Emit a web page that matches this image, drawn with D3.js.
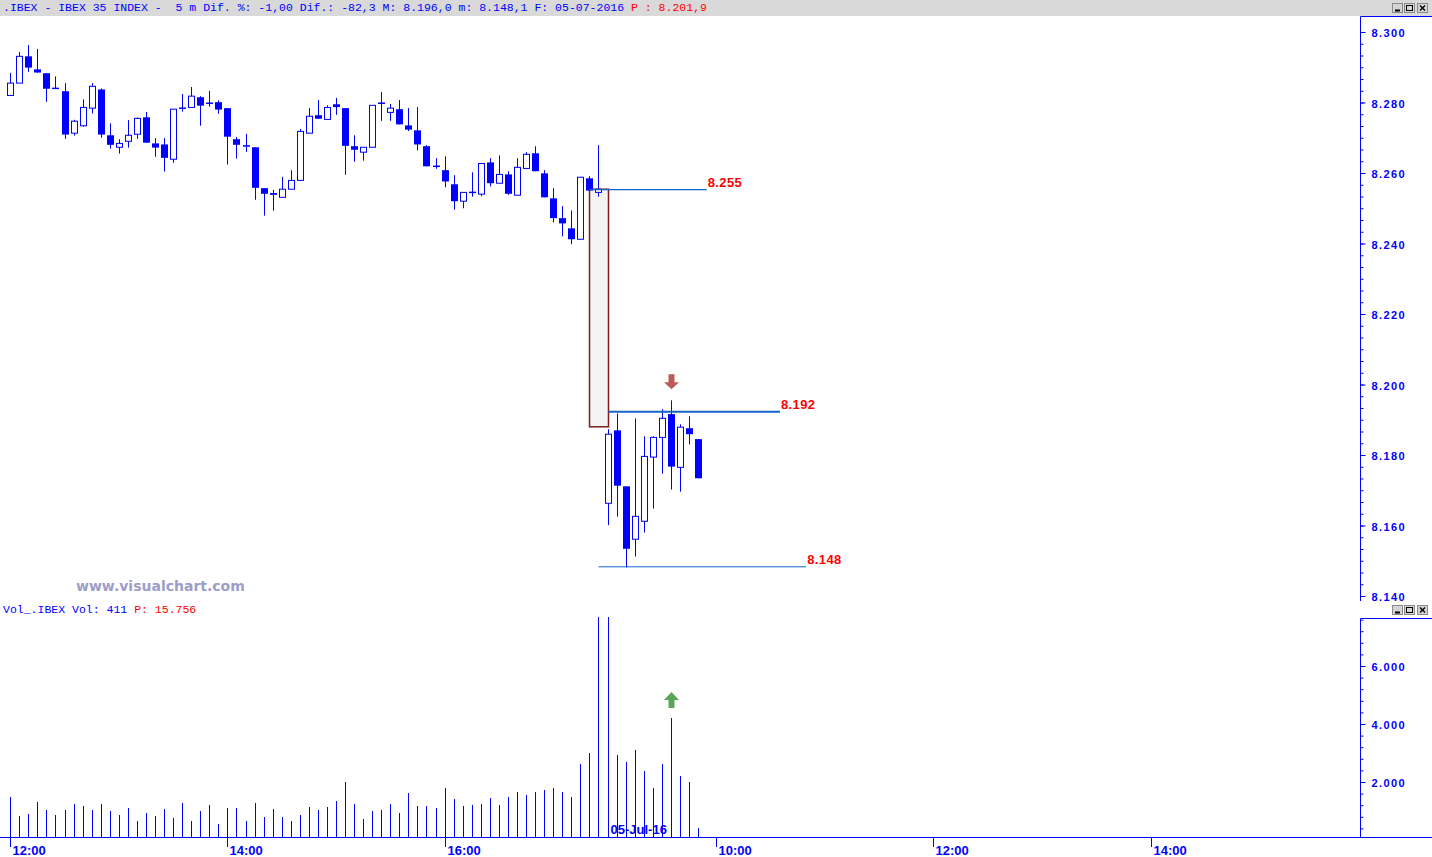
<!DOCTYPE html>
<html>
<head>
<meta charset="utf-8">
<script src="https://d3js.org/d3.v7.min.js"></script>
<style>
  body { margin: 0; background: #fff; }
  svg { display: block; }
  text { white-space: pre; }
</style>
</head>
<body>
<script>

var width = 1432;
var height = 857;

// 5 min candles: 04-07 from 12:00 to the close, then 05-07 from 09:00
var opens = [8.2820, 8.2855, 8.2931, 8.2894, 8.2883, 8.2840, 8.2832, 8.2713, 8.2734, 8.2784,
  8.2837, 8.2707, 8.2673, 8.2690, 8.2710, 8.2758, 8.2684, 8.2681, 8.2639, 8.2786,
  8.2786, 8.2815, 8.2798, 8.2801, 8.2784, 8.2696, 8.2679, 8.2673, 8.2557, 8.2543,
  8.2531, 8.2554, 8.2579, 8.2713, 8.2764, 8.2752, 8.2795, 8.2784, 8.2676, 8.2659,
  8.2673, 8.2798, 8.2772, 8.2781, 8.2735, 8.2721, 8.2676, 8.2619, 8.2608, 8.2568,
  8.2520, 8.2545, 8.2540, 8.2630, 8.2571, 8.2596, 8.2537, 8.2613, 8.2656, 8.2599,
  8.2528, 8.2472, 8.2443, 8.2412, 8.2585, 8.2545, 8.1663, 8.1870, 8.1711, 8.1561,
  8.1612, 8.1794, 8.1850, 8.1916, 8.1765, 8.1876, 8.1845];

var highs = [8.2884, 8.2943, 8.2963, 8.2952, 8.2883, 8.2874, 8.2855, 8.2751, 8.2809, 8.2855,
  8.2840, 8.2741, 8.2696, 8.2750, 8.2758, 8.2773, 8.2699, 8.2699, 8.2781, 8.2824,
  8.2844, 8.2818, 8.2833, 8.2806, 8.2784, 8.2702, 8.2711, 8.2673, 8.2557, 8.2552,
  8.2589, 8.2608, 8.2725, 8.2784, 8.2807, 8.2792, 8.2813, 8.2784, 8.2707, 8.2673,
  8.2792, 8.2830, 8.2796, 8.2807, 8.2784, 8.2787, 8.2679, 8.2642, 8.2647, 8.2594,
  8.2545, 8.2602, 8.2627, 8.2642, 8.2650, 8.2605, 8.2642, 8.2659, 8.2676, 8.2608,
  8.2557, 8.2506, 8.2494, 8.2588, 8.2591, 8.2679, 8.1873, 8.1918, 8.1711, 8.1904,
  8.1853, 8.1853, 8.1930, 8.1955, 8.1887, 8.1910, 8.1845];

var lows = [8.2820, 8.2855, 8.2887, 8.2885, 8.2802, 8.2840, 8.2697, 8.2706, 8.2731, 8.2769,
  8.2700, 8.2669, 8.2655, 8.2672, 8.2697, 8.2686, 8.2646, 8.2604, 8.2629, 8.2774,
  8.2786, 8.2734, 8.2788, 8.2768, 8.2624, 8.2641, 8.2660, 8.2524, 8.2479, 8.2493,
  8.2531, 8.2554, 8.2579, 8.2713, 8.2754, 8.2752, 8.2765, 8.2595, 8.2632, 8.2635,
  8.2673, 8.2748, 8.2748, 8.2738, 8.2719, 8.2664, 8.2619, 8.2612, 8.2559, 8.2496,
  8.2500, 8.2533, 8.2534, 8.2562, 8.2571, 8.2538, 8.2537, 8.2611, 8.2605, 8.2531,
  8.2460, 8.2420, 8.2398, 8.2412, 8.2550, 8.2533, 8.1601, 8.1625, 8.1481, 8.1512,
  8.1580, 8.1648, 8.1747, 8.1702, 8.1696, 8.1830, 8.1734];

var closes = [8.2855, 8.2931, 8.2899, 8.2885, 8.2839, 8.2840, 8.2709, 8.2747, 8.2786, 8.2846,
  8.2709, 8.2680, 8.2684, 8.2707, 8.2755, 8.2686, 8.2672, 8.2643, 8.2781, 8.2782,
  8.2818, 8.2791, 8.2798, 8.2780, 8.2703, 8.2680, 8.2675, 8.2558, 8.2541, 8.2538,
  8.2554, 8.2579, 8.2718, 8.2761, 8.2754, 8.2786, 8.2787, 8.2677, 8.2666, 8.2673,
  8.2792, 8.2798, 8.2784, 8.2738, 8.2723, 8.2681, 8.2619, 8.2619, 8.2576, 8.2520,
  8.2545, 8.2545, 8.2627, 8.2571, 8.2596, 8.2541, 8.2616, 8.2653, 8.2605, 8.2531,
  8.2472, 8.2457, 8.2412, 8.2588, 8.2550, 8.2554, 8.1859, 8.1713, 8.1534, 8.1626,
  8.1796, 8.1850, 8.1904, 8.1767, 8.1879, 8.1859, 8.1734];

var volumes = [1483, 828, 897, 1310, 1034, 862, 1034, 1241, 1172, 1034,
  1241, 1000, 862, 1103, 655, 931, 828, 1069, 759, 1276,
  655, 1000, 1207, 552, 1103, 1103, 655, 1276, 793, 1069,
  793, 655, 862, 1138, 1034, 1138, 1345, 2000, 1241, 724,
  1000, 1034, 1241, 931, 1621, 1172, 1172, 1103, 1793, 1414,
  1172, 1207, 1241, 1448, 1207, 1483, 1655, 1552, 1655, 1724,
  1793, 1655, 1483, 2621, 3000, 11500, 9800, 2931, 2690, 3103,
  2379, 1793, 2621, 4207, 2207, 2000, 411];

var timeTickIndex = [0, 24, 48, 78, 102, 126];
var timeTickLabels = ["12:00", "14:00", "16:00", "10:00", "12:00", "14:00"];
var priceTicks = [8.14, 8.16, 8.18, 8.20, 8.22, 8.24, 8.26, 8.28, 8.30];
var volumeTicks = [2000, 4000, 6000];

var levels = [8.255, 8.192, 8.148];
var levelLabels = ["8.255", "8.192", "8.148"];
var levelFrom = [64, 66, 65];
var levelTo = [76.9, 85, 87.9];
var levelWidth = [1.3, 2, 1];

var gapTop = 8.2554, gapBottom = 8.188;
var signalIndex = 73;
var dayStartIndex = 66;
var dayLabel = "05-Jul-16";

var titleBlue = ".IBEX - IBEX 35 INDEX -  5 m Dif. %: -1,00 Dif.: -82,3 M: 8.196,0 m: 8.148,1 F: 05-07-2016 ";
var titleRed = "P : 8.201,9";
var volTitleBlue = "Vol_.IBEX Vol: 411 ";
var volTitleRed = "P: 15.756";

var blue = "#0000ff";
var lineBlue = "#1565c8";
var boldFont = "'Liberation Sans', Arial, sans-serif";
var monoFont = "'Liberation Mono', 'Courier New', monospace";

var candles = opens.map(function(o, i) {
  return {i: i, o: o, h: highs[i], l: lows[i], c: closes[i], v: volumes[i]};
});

var svg = d3.select("body")
  .append("svg")
  .attr("width", width)
  .attr("height", height);

var x = d3.scaleLinear().domain([0, 126]).range([10.7, 1151]);
var y = d3.scaleLinear().domain([8.14, 8.30]).range([596, 32]);
var vy = d3.scaleLinear().domain([0, 6000]).range([840, 666]);
var axisX = 1360.5;

function cx(i) { return Math.floor(x(i)) + 0.5; }

// title bars
svg.append("rect").attr("x", 0).attr("y", 0).attr("width", width).attr("height", 16).attr("fill", "#d9d9d9");

var title = svg.append("text")
  .attr("x", 3).attr("y", 11)
  .attr("font-family", monoFont).attr("font-size", "11.5px");
title.append("tspan").attr("fill", blue).text(titleBlue);
title.append("tspan").attr("fill", "#ff0000").text(titleRed);

var volTitle = svg.append("text")
  .attr("x", 3).attr("y", 613)
  .attr("font-family", monoFont).attr("font-size", "11.5px");
volTitle.append("tspan").attr("fill", blue).text(volTitleBlue);
volTitle.append("tspan").attr("fill", "#ff0000").text(volTitleRed);

function windowButtons(top) {
  var g = svg.append("g").attr("transform", "translate(0," + top + ")");
  [1392, 1404, 1417].forEach(function(bx, k) {
    g.append("rect").attr("x", bx + 0.5).attr("y", 0.5).attr("width", 10).attr("height", 9)
      .attr("fill", "#d4d4d4").attr("stroke", "#8a8a8a");
    if (k == 0) {
      g.append("line").attr("x1", bx + 3).attr("x2", bx + 8).attr("y1", 7.5).attr("y2", 7.5).attr("stroke", "#000").attr("stroke-width", 2);
    } else if (k == 1) {
      g.append("rect").attr("x", bx + 2.5).attr("y", 2.5).attr("width", 6).attr("height", 5)
        .attr("fill", "none").attr("stroke", "#000");
    } else {
      g.append("path").attr("d", "M" + (bx + 3) + ",2.5L" + (bx + 8) + ",7.5M" + (bx + 8) + ",2.5L" + (bx + 3) + ",7.5")
        .attr("stroke", "#000").attr("stroke-width", 1.4);
    }
  });
}
windowButtons(3);
windowButtons(605);

// watermark
svg.append("text")
  .attr("x", 76).attr("y", 591)
  .attr("font-family", "'DejaVu Sans', Verdana, sans-serif")
  .attr("font-weight", "bold").attr("font-size", "14px")
  .attr("fill", "#9d9dc9")
  .text("www.visualchart.com");

// gap box between sessions
svg.append("rect")
  .attr("x", cx(64)).attr("y", y(gapTop))
  .attr("width", cx(dayStartIndex) - cx(64))
  .attr("height", y(gapBottom) - y(gapTop))
  .attr("fill", "#f3f3f3").attr("stroke", "#7b1c1c").attr("stroke-width", 1.5);

// candles
var cg = svg.append("g");
cg.selectAll("line.wick")
  .data(candles)
  .enter().append("line")
  .attr("class", "wick")
  .attr("x1", function(d) { return cx(d.i); })
  .attr("x2", function(d) { return cx(d.i); })
  .attr("y1", function(d) { return y(d.h); })
  .attr("y2", function(d) { return y(d.l); })
  .attr("stroke", blue);

cg.selectAll("rect.body")
  .data(candles.filter(function(d) { return d.c != d.o; }))
  .enter().append("rect")
  .attr("class", "body")
  .attr("x", function(d) { return d.c > d.o ? cx(d.i) - 3 : cx(d.i) - 3.5; })
  .attr("width", function(d) { return d.c > d.o ? 6 : 7; })
  .attr("y", function(d) { return y(Math.max(d.o, d.c)); })
  .attr("height", function(d) { return Math.max(1.5, Math.abs(y(d.o) - y(d.c))); })
  .attr("fill", function(d) { return d.c > d.o ? "#fff" : blue; })
  .attr("stroke", function(d) { return d.c > d.o ? blue : "none"; });

cg.selectAll("line.doji")
  .data(candles.filter(function(d) { return d.c == d.o; }))
  .enter().append("line")
  .attr("class", "doji")
  .attr("x1", function(d) { return cx(d.i) - 3.5; })
  .attr("x2", function(d) { return cx(d.i) + 3.5; })
  .attr("y1", function(d) { return y(d.o); })
  .attr("y2", function(d) { return y(d.o); })
  .attr("stroke", blue).attr("stroke-width", 1.5);

// support / resistance levels
levels.forEach(function(v, k) {
  var x1 = x(levelTo[k]);
  svg.append("line")
    .attr("x1", cx(levelFrom[k])).attr("x2", x1)
    .attr("y1", y(v) - 1).attr("y2", y(v) - 1)
    .attr("stroke", lineBlue).attr("stroke-width", levelWidth[k]);
  svg.append("text")
    .attr("x", x1 + 1).attr("y", y(v) - 4)
    .attr("font-family", boldFont).attr("font-weight", "bold")
    .attr("font-size", "13px").attr("letter-spacing", "0.4px")
    .attr("fill", "#ff0000")
    .text(levelLabels[k]);
});

// signal arrows
var sx = cx(signalIndex);
var tip = y(highs[signalIndex]) - 11;
svg.append("path")
  .attr("d", "M" + (sx - 3) + "," + (tip - 15) + "L" + (sx + 3) + "," + (tip - 15) + "L" + (sx + 3) + "," + (tip - 7) +
    "L" + (sx + 7.5) + "," + (tip - 7) + "L" + sx + "," + tip + "L" + (sx - 7.5) + "," + (tip - 7) +
    "L" + (sx - 3) + "," + (tip - 7) + "Z")
  .attr("fill", "#b24f4b").attr("opacity", 0.92);

var base = vy(volumes[signalIndex]) - 10;
svg.append("path")
  .attr("d", "M" + (sx - 3) + "," + base + "L" + (sx + 3) + "," + base + "L" + (sx + 3) + "," + (base - 8) +
    "L" + (sx + 7.5) + "," + (base - 8) + "L" + sx + "," + (base - 16) + "L" + (sx - 7.5) + "," + (base - 8) +
    "L" + (sx - 3) + "," + (base - 8) + "Z")
  .attr("fill", "#4a9e4a").attr("opacity", 0.92);

// volume
svg.append("clipPath").attr("id", "volclip")
  .append("rect").attr("x", 0).attr("y", 617).attr("width", axisX).attr("height", 220);

svg.append("g").attr("clip-path", "url(#volclip)")
  .selectAll("line")
  .data(candles)
  .enter().append("line")
  .attr("x1", function(d) { return cx(d.i); })
  .attr("x2", function(d) { return cx(d.i); })
  .attr("y1", 837)
  .attr("y2", function(d) { return vy(d.v); })
  .attr("stroke", blue);

svg.append("text")
  .attr("x", x(dayStartIndex) + 2.5).attr("y", 834)
  .attr("font-family", boldFont).attr("font-weight", "bold").attr("font-size", "13px")
  .attr("fill", blue)
  .text(dayLabel);

// frames
var frame = svg.append("g").attr("stroke", blue).attr("fill", "none");
frame.append("path").attr("d", "M" + axisX + ",601V16.5H" + width);
frame.append("path").attr("d", "M" + axisX + ",837V618.5H" + width);
frame.append("path").attr("d", "M0,837.5H" + width);

// time axis
var tg = svg.append("g");
timeTickIndex.forEach(function(t, k) {
  tg.append("line")
    .attr("x1", cx(t)).attr("x2", cx(t)).attr("y1", 837).attr("y2", 847)
    .attr("stroke", blue);
  tg.append("text")
    .attr("x", cx(t) + 2).attr("y", 855)
    .attr("font-family", boldFont).attr("font-weight", "bold").attr("font-size", "13px")
    .attr("fill", blue)
    .text(timeTickLabels[k]);
});

// price axis
var priceAxis = d3.axisRight(y)
  .tickValues(priceTicks)
  .tickSize(5).tickSizeOuter(0).tickPadding(6)
  .tickFormat(d3.format(".3f"));

var minorPrice = d3.range(0, 49).map(function(k) { return 8.14 + k * 0.02 / 6; });
var priceMinor = d3.axisRight(y).tickValues(minorPrice).tickSize(3).tickSizeOuter(0).tickFormat("");

var esLocale = d3.formatLocale({decimal: ",", thousands: ".", grouping: [3], currency: ["", "€"]});
var volAxis = d3.axisRight(vy)
  .tickValues(volumeTicks)
  .tickSize(5).tickSizeOuter(0).tickPadding(6)
  .tickFormat(esLocale.format(","));

var minorVol = d3.range(1, 20).map(function(k) { return k * 400; });
var volMinor = d3.axisRight(vy).tickValues(minorVol).tickSize(3).tickSizeOuter(0).tickFormat("");

[priceMinor, priceAxis, volMinor, volAxis].forEach(function(ax) {
  var g = svg.append("g")
    .attr("transform", "translate(" + axisX + ",0)")
    .call(ax);
  g.select(".domain").remove();
  g.selectAll("line").attr("stroke", blue);
  g.selectAll("text")
    .attr("fill", blue)
    .attr("font-family", boldFont)
    .attr("font-weight", "bold")
    .attr("font-size", "11px")
    .attr("letter-spacing", "1.4px")
    .attr("dy", "0.42em");
});

</script>
</body>
</html>
